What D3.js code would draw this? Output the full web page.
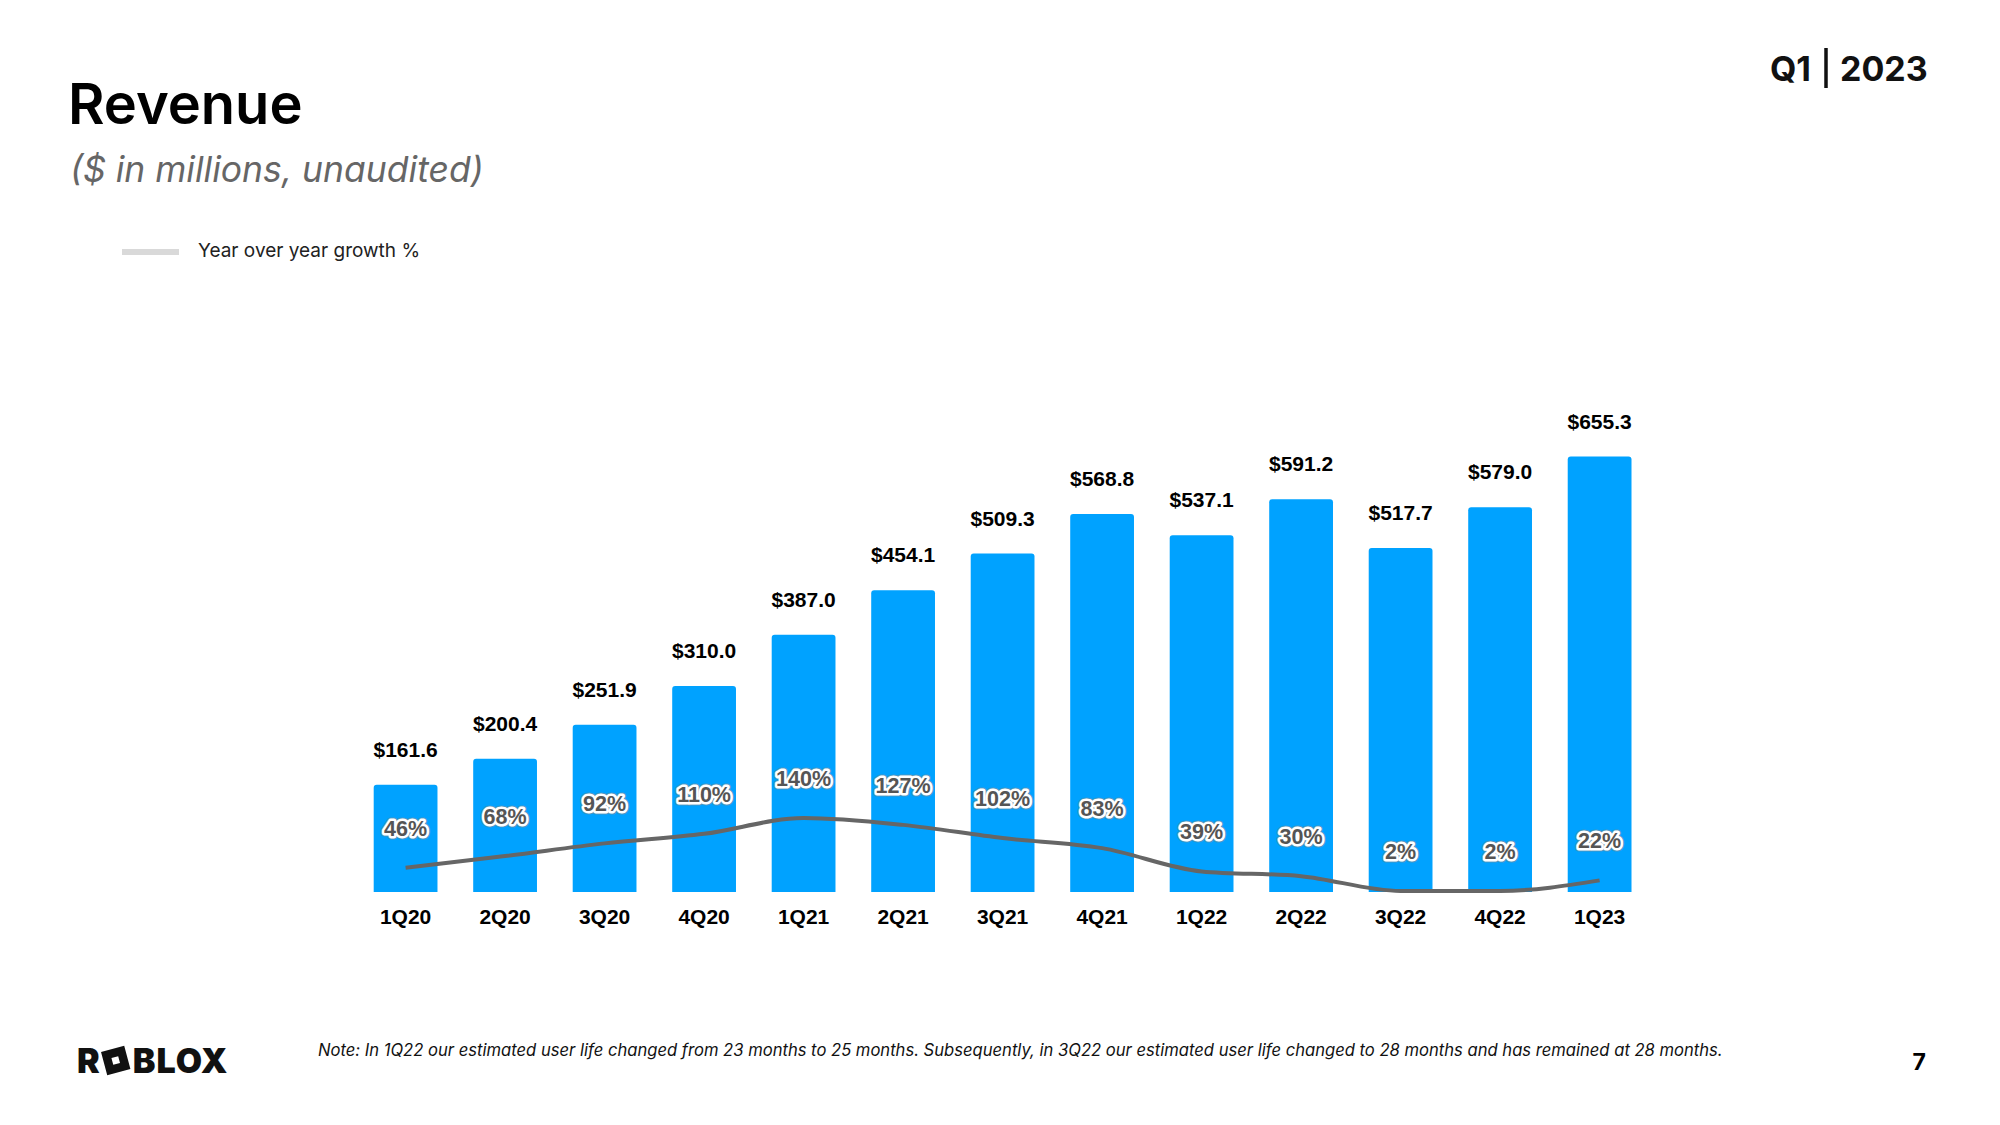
<!DOCTYPE html>
<html>
<head>
<meta charset="utf-8">
<script src="https://cdn.jsdelivr.net/npm/d3@7"></script>
<style>
  html, body { margin: 0; padding: 0; background: #ffffff; }
  svg { display: block; }
</style>
</head>
<body>
<svg id="chart" width="2000" height="1125"></svg>
<script>
// ---- data ----
const quarters = ["1Q20","2Q20","3Q20","4Q20","1Q21","2Q21","3Q21","4Q21","1Q22","2Q22","3Q22","4Q22","1Q23"];
const revenue  = [161.6, 200.4, 251.9, 310.0, 387.0, 454.1, 509.3, 568.8, 537.1, 591.2, 517.7, 579.0, 655.3];
const growth   = [46, 68, 92, 110, 140, 127, 102, 83, 39, 30, 2, 2, 22];
const revenueLabels = ["$161.6","$200.4","$251.9","$310.0","$387.0","$454.1","$509.3","$568.8","$537.1","$591.2","$517.7","$579.0","$655.3"];
const growthLabels  = ["46%","68%","92%","110%","140%","127%","102%","83%","39%","30%","2%","2%","22%"];

const title = "Revenue";
const subtitle = "($ in millions, unaudited)";
const legendLabel = "Year over year growth %";
const noteText = "Note: In 1Q22 our estimated user life changed from 23 months to 25 months. Subsequently, in 3Q22 our estimated user life changed to 28 months and has remained at 28 months.";

const rows = quarters.map((q, i) => ({ q, rev: revenue[i], g: growth[i], rl: revenueLabels[i], gl: growthLabels[i] }));

const svg = d3.select("#chart");
const BLUE = "#00A2FF";
const ARIAL = "'Liberation Sans', Arial, sans-serif";
const INTER = "Inter, 'Noto Sans', sans-serif";

// ---- scales ----
const x = d3.scaleBand().domain(quarters).range([373.7, 1631.5]).paddingInner(0.359).paddingOuter(0);
const y = d3.scaleLinear().domain([0, 700]).range([892, 426.9]);
const y2 = d3.scaleLinear().domain([0, 140]).range([892, 818]);

// ---- header ----
svg.append("text").attr("x", 68).attr("y", 124)
  .attr("font-family", INTER).attr("font-weight", 600).attr("font-size", 56)
  .attr("fill", "#000").text(title);
svg.append("text").attr("x", 70).attr("y", 182)
  .attr("font-family", INTER).attr("font-style", "italic").attr("font-size", 35.5)
  .attr("fill", "#666").text(subtitle);

// legend
svg.append("line").attr("x1", 122).attr("x2", 179).attr("y1", 252).attr("y2", 252)
  .attr("stroke", "#d9d9d9").attr("stroke-width", 6);
svg.append("text").attr("x", 198).attr("y", 257)
  .attr("font-family", INTER).attr("font-size", 19).attr("fill", "#222").text(legendLabel);

// Q1 | 2023
const hdr = svg.append("g");
hdr.append("text").attr("x", 1811).attr("y", 81).attr("text-anchor", "end")
  .attr("font-family", INTER).attr("font-weight", 700).attr("font-size", 34).attr("fill", "#111").text("Q1");
hdr.append("line").attr("x1", 1826).attr("x2", 1826).attr("y1", 48).attr("y2", 88)
  .attr("stroke", "#111").attr("stroke-width", 3.5);
hdr.append("text").attr("x", 1840).attr("y", 81)
  .attr("font-family", INTER).attr("font-weight", 700).attr("font-size", 34).attr("fill", "#111").text("2023");

// ---- bars ----
const bw = x.bandwidth();
const r = 3;
function barPath(d) {
  const x0 = x(d.q), x1 = x0 + bw, yt = y(d.rev), yb = y(0);
  return `M${x0},${yb}V${yt + r}Q${x0},${yt} ${x0 + r},${yt}H${x1 - r}Q${x1},${yt} ${x1},${yt + r}V${yb}Z`;
}
svg.append("g").selectAll("path").data(rows).join("path")
  .attr("d", barPath).attr("fill", BLUE);

// revenue labels
svg.append("g").selectAll("text").data(rows).join("text")
  .attr("x", d => x(d.q) + bw / 2).attr("y", d => y(d.rev) - 28)
  .attr("text-anchor", "middle").attr("font-family", ARIAL).attr("font-weight", 700)
  .attr("font-size", 21).attr("fill", "#000").text(d => d.rl);

// growth line
const line = d3.line().x(d => x(d.q) + bw / 2).y(d => y2(d.g)).curve(d3.curveMonotoneX);
svg.append("path").datum(rows).attr("d", line)
  .attr("fill", "none").attr("stroke", "#666").attr("stroke-width", 4).attr("stroke-linejoin", "round");

// growth labels (outlined)
const gl = svg.append("g").attr("font-family", ARIAL).attr("font-weight", 700).attr("font-size", 21.5).attr("text-anchor", "middle");
gl.selectAll("text.halo2").data(rows).join("text").attr("class", "halo2")
  .attr("x", d => x(d.q) + bw / 2).attr("y", d => y2(d.g) - 32)
  .attr("fill", "none").attr("stroke", "#8a8a8a").attr("stroke-width", 7).attr("stroke-opacity", 0.55)
  .attr("stroke-linejoin", "round").text(d => d.gl);
gl.selectAll("text.halo").data(rows).join("text").attr("class", "halo")
  .attr("x", d => x(d.q) + bw / 2).attr("y", d => y2(d.g) - 32)
  .attr("fill", "none").attr("stroke", "#fff").attr("stroke-width", 5)
  .attr("stroke-linejoin", "round").text(d => d.gl);
gl.selectAll("text.fill").data(rows).join("text").attr("class", "fill")
  .attr("x", d => x(d.q) + bw / 2).attr("y", d => y2(d.g) - 32)
  .attr("fill", "#555").text(d => d.gl);

// category axis
const xAxis = svg.append("g").attr("transform", "translate(0,900)")
  .call(d3.axisBottom(x).tickSize(0).tickPadding(0));
xAxis.select(".domain").remove();
xAxis.selectAll("text").attr("font-family", ARIAL).attr("font-weight", 700)
  .attr("font-size", 21).attr("fill", "#000").attr("dy", "0").attr("y", 24);

// ---- footer ----
// logo
const logo = svg.append("g").attr("transform", "translate(77,1073)");
const lf = { family: INTER, weight: 900, size: 34 };
const tR = logo.append("text").attr("x", 0).attr("y", 0)
  .attr("font-family", lf.family).attr("font-weight", lf.weight).attr("font-size", lf.size)
  .attr("fill", "#111").text("R");
const wR = tR.node().getComputedTextLength();
const sq = 24, sqx = wR + 4 + sq / 2, sqy = -12.5;
const sqG = logo.append("g").attr("transform", `translate(${sqx},${sqy}) rotate(-15)`);
sqG.append("path")
  .attr("d", `M${-sq/2},${-sq/2}h${sq}v${sq}h${-sq}Z M-3.5,-3.5v7h7v-7Z`)
  .attr("fill", "#111").attr("fill-rule", "evenodd");
logo.append("text").attr("x", sqx + sq / 2 + 5).attr("y", 0)
  .attr("font-family", lf.family).attr("font-weight", lf.weight).attr("font-size", lf.size)
  .attr("letter-spacing", 1).attr("fill", "#111").text("BLOX");

svg.append("text").attr("x", 318).attr("y", 1056)
  .attr("font-family", INTER).attr("font-style", "italic").attr("font-size", 16.6)
  .attr("fill", "#111").text(noteText);

svg.append("text").attr("x", 1926).attr("y", 1070).attr("text-anchor", "end")
  .attr("font-family", INTER).attr("font-weight", 700).attr("font-size", 23).attr("fill", "#000").text("7");
</script>
</body>
</html>
